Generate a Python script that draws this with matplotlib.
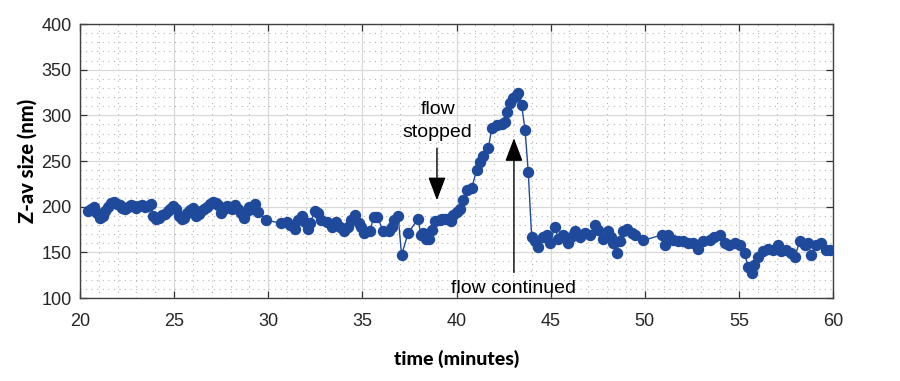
import matplotlib
matplotlib.use("Agg")
import matplotlib.pyplot as plt
from matplotlib.ticker import MultipleLocator

# ---- data ----
time_min = [
    20.45, 20.6, 20.75, 20.9, 21.05, 21.2, 21.35, 21.5, 21.65, 21.8, 21.95, 22.1, 22.25, 22.4,
    22.55, 22.7, 22.85, 23.0, 23.15, 23.3, 23.45, 23.6, 23.75, 23.9, 24.05, 24.2, 24.35, 24.5,
    24.65, 24.8, 24.95, 25.1, 25.25, 25.4, 25.55, 25.7, 25.85, 26.0, 26.15, 26.3, 26.45, 26.6,
    26.75, 26.9, 27.05, 27.2, 27.35, 27.5, 27.65, 27.8, 27.95, 28.1, 28.25, 28.4, 28.55, 28.7,
    28.85, 29.0, 29.15, 29.3, 29.47, 29.9,
    30.7, 31.0, 31.15, 31.4, 31.6, 31.77, 31.95, 32.1, 32.2, 32.5, 32.65, 32.8, 33.1, 33.4,
    33.6, 33.8, 34.0, 34.25, 34.4, 34.6, 34.8, 34.95, 35.1, 35.4, 35.6, 35.8, 36.1, 36.4,
    36.55, 36.7, 36.9, 37.08, 37.43, 37.96, 38.1, 38.24, 38.4, 38.55, 38.7, 38.86, 39.1,
    39.25, 39.4, 39.55, 39.7, 39.83, 40.0, 40.2, 40.36, 40.54, 40.8, 41.07, 41.25, 41.42,
    41.69, 41.87, 42.13, 42.4, 42.57, 42.7, 42.84, 43.0, 43.15, 43.28, 43.46, 43.64, 43.81,
    43.99, 44.16, 44.34, 44.6, 44.78, 44.96, 45.22, 45.4, 45.67, 45.93, 46.1, 46.28, 46.55,
    46.8, 47.08, 47.35, 47.52, 47.79, 48.05, 48.23, 48.32, 48.5, 48.67, 48.85, 49.03, 49.3,
    49.47, 49.9, 50.9, 51.06, 51.24, 51.5, 51.77, 52.04, 52.3, 52.57, 52.83, 53.1, 53.45,
    53.7, 53.98, 54.25, 54.5, 54.78, 55.05, 55.3, 55.49, 55.67, 55.79, 56.02, 56.28, 56.55,
    56.8, 57.08, 57.26, 57.52, 57.79, 57.97, 58.23, 58.5, 58.67, 58.85, 59.12, 59.38, 59.65,
    59.83,
]
size_nm = [
    195, 198, 200, 193, 188, 190, 195, 200, 204, 205, 203, 202, 199, 197,
    200, 202, 201, 199, 201, 202, 200, 201, 203, 190, 186, 188, 191, 192,
    195, 198, 201, 197, 190, 186, 188, 193, 196, 199, 190, 192, 195, 197,
    200, 203, 205, 204, 202, 193, 198, 201, 200, 198, 202, 197, 193, 188,
    195, 200, 198, 203, 194, 185,
    182, 183, 180, 176, 185, 190, 183, 176, 182, 195, 193, 185, 183, 178,
    183, 178, 173, 178, 185, 191, 182, 178, 171, 173, 189, 189, 173, 173,
    178, 185, 190, 147, 171, 187, 169, 171, 165, 165, 174, 184, 185,
    186, 187, 186, 184, 191, 194, 198, 207, 218, 220, 240, 249, 255,
    264, 286, 289, 291, 293, 304, 313, 319, 321, 324, 311, 284, 238,
    167, 162, 156, 167, 169, 160, 178, 165, 169, 160, 167, 173, 167,
    171, 169, 180, 174, 165, 173, 167, 160, 149, 162, 173, 176, 171,
    169, 163, 169, 158, 169, 163, 162, 162, 160, 160, 154, 162, 163,
    167, 169, 160, 158, 160, 158, 149, 134, 127, 136, 145, 151, 154,
    153, 158, 151, 153, 149, 145, 162, 158, 160, 147, 158, 160, 153,
    153,
]

x_ticks = [20, 25, 30, 35, 40, 45, 50, 55, 60]
y_ticks = [100, 150, 200, 250, 300, 350, 400]

blue = "#1f4a9c"

fig = plt.figure(figsize=(9, 3.81), dpi=100)
ax = fig.add_axes([0.0889, 0.2178, 0.8367, 0.7192])

ax.plot(time_min, size_nm, "-o", color=blue, lw=1.0, ms=7.2,
        markerfacecolor=blue, markeredgecolor=blue, zorder=3)

ax.set_xlim(20, 60)
ax.set_ylim(100, 400)
ax.set_xticks(x_ticks)
ax.set_yticks(y_ticks)
ax.xaxis.set_minor_locator(MultipleLocator(1))
ax.yaxis.set_minor_locator(MultipleLocator(10))

ax.grid(which="major", color="#d8d8d8", lw=0.9, zorder=0)
ax.grid(which="minor", color="#b8b8b8", lw=0.8, linestyle=(0, (1, 4)), zorder=0)
ax.set_axisbelow(True)

ax.tick_params(which="major", direction="in", length=5, width=0.9, color="#333333",
               top=True, right=True, labelsize=13, labelcolor="#262626")
ax.tick_params(which="minor", length=0)
ax.tick_params(axis="x", pad=11)
ax.tick_params(axis="y", pad=6)
for lab in ax.get_xticklabels() + ax.get_yticklabels():
    lab.set_fontfamily("Liberation Sans")
for s in ax.spines.values():
    s.set_color("#404040")
    s.set_linewidth(1.0)

ax.set_xlabel("time (minutes)", fontsize=14, fontweight=900, family="Lato",
              labelpad=14)
ax.set_ylabel("Z-av size (nm)", fontsize=14.5, fontweight=900, family="Lato",
              labelpad=3)

arrow = dict(arrowstyle="-|>,head_length=0.9,head_width=0.34", color="black", lw=1.0,
             shrinkA=0, shrinkB=0, mutation_scale=16)
ax.annotate("", xy=(38.96, 207), xytext=(38.96, 264), arrowprops=arrow)
ax.text(39.0, 294, "flow\nstopped", ha="center", va="center", fontsize=14,
        family="Liberation Sans", linespacing=1.5)
ax.annotate("", xy=(43.05, 275), xytext=(43.05, 128), arrowprops=arrow)
ax.text(43.05, 110, "flow continued", ha="center", va="center", fontsize=14,
        family="Liberation Sans")

fig.savefig("out.png", dpi=100)
